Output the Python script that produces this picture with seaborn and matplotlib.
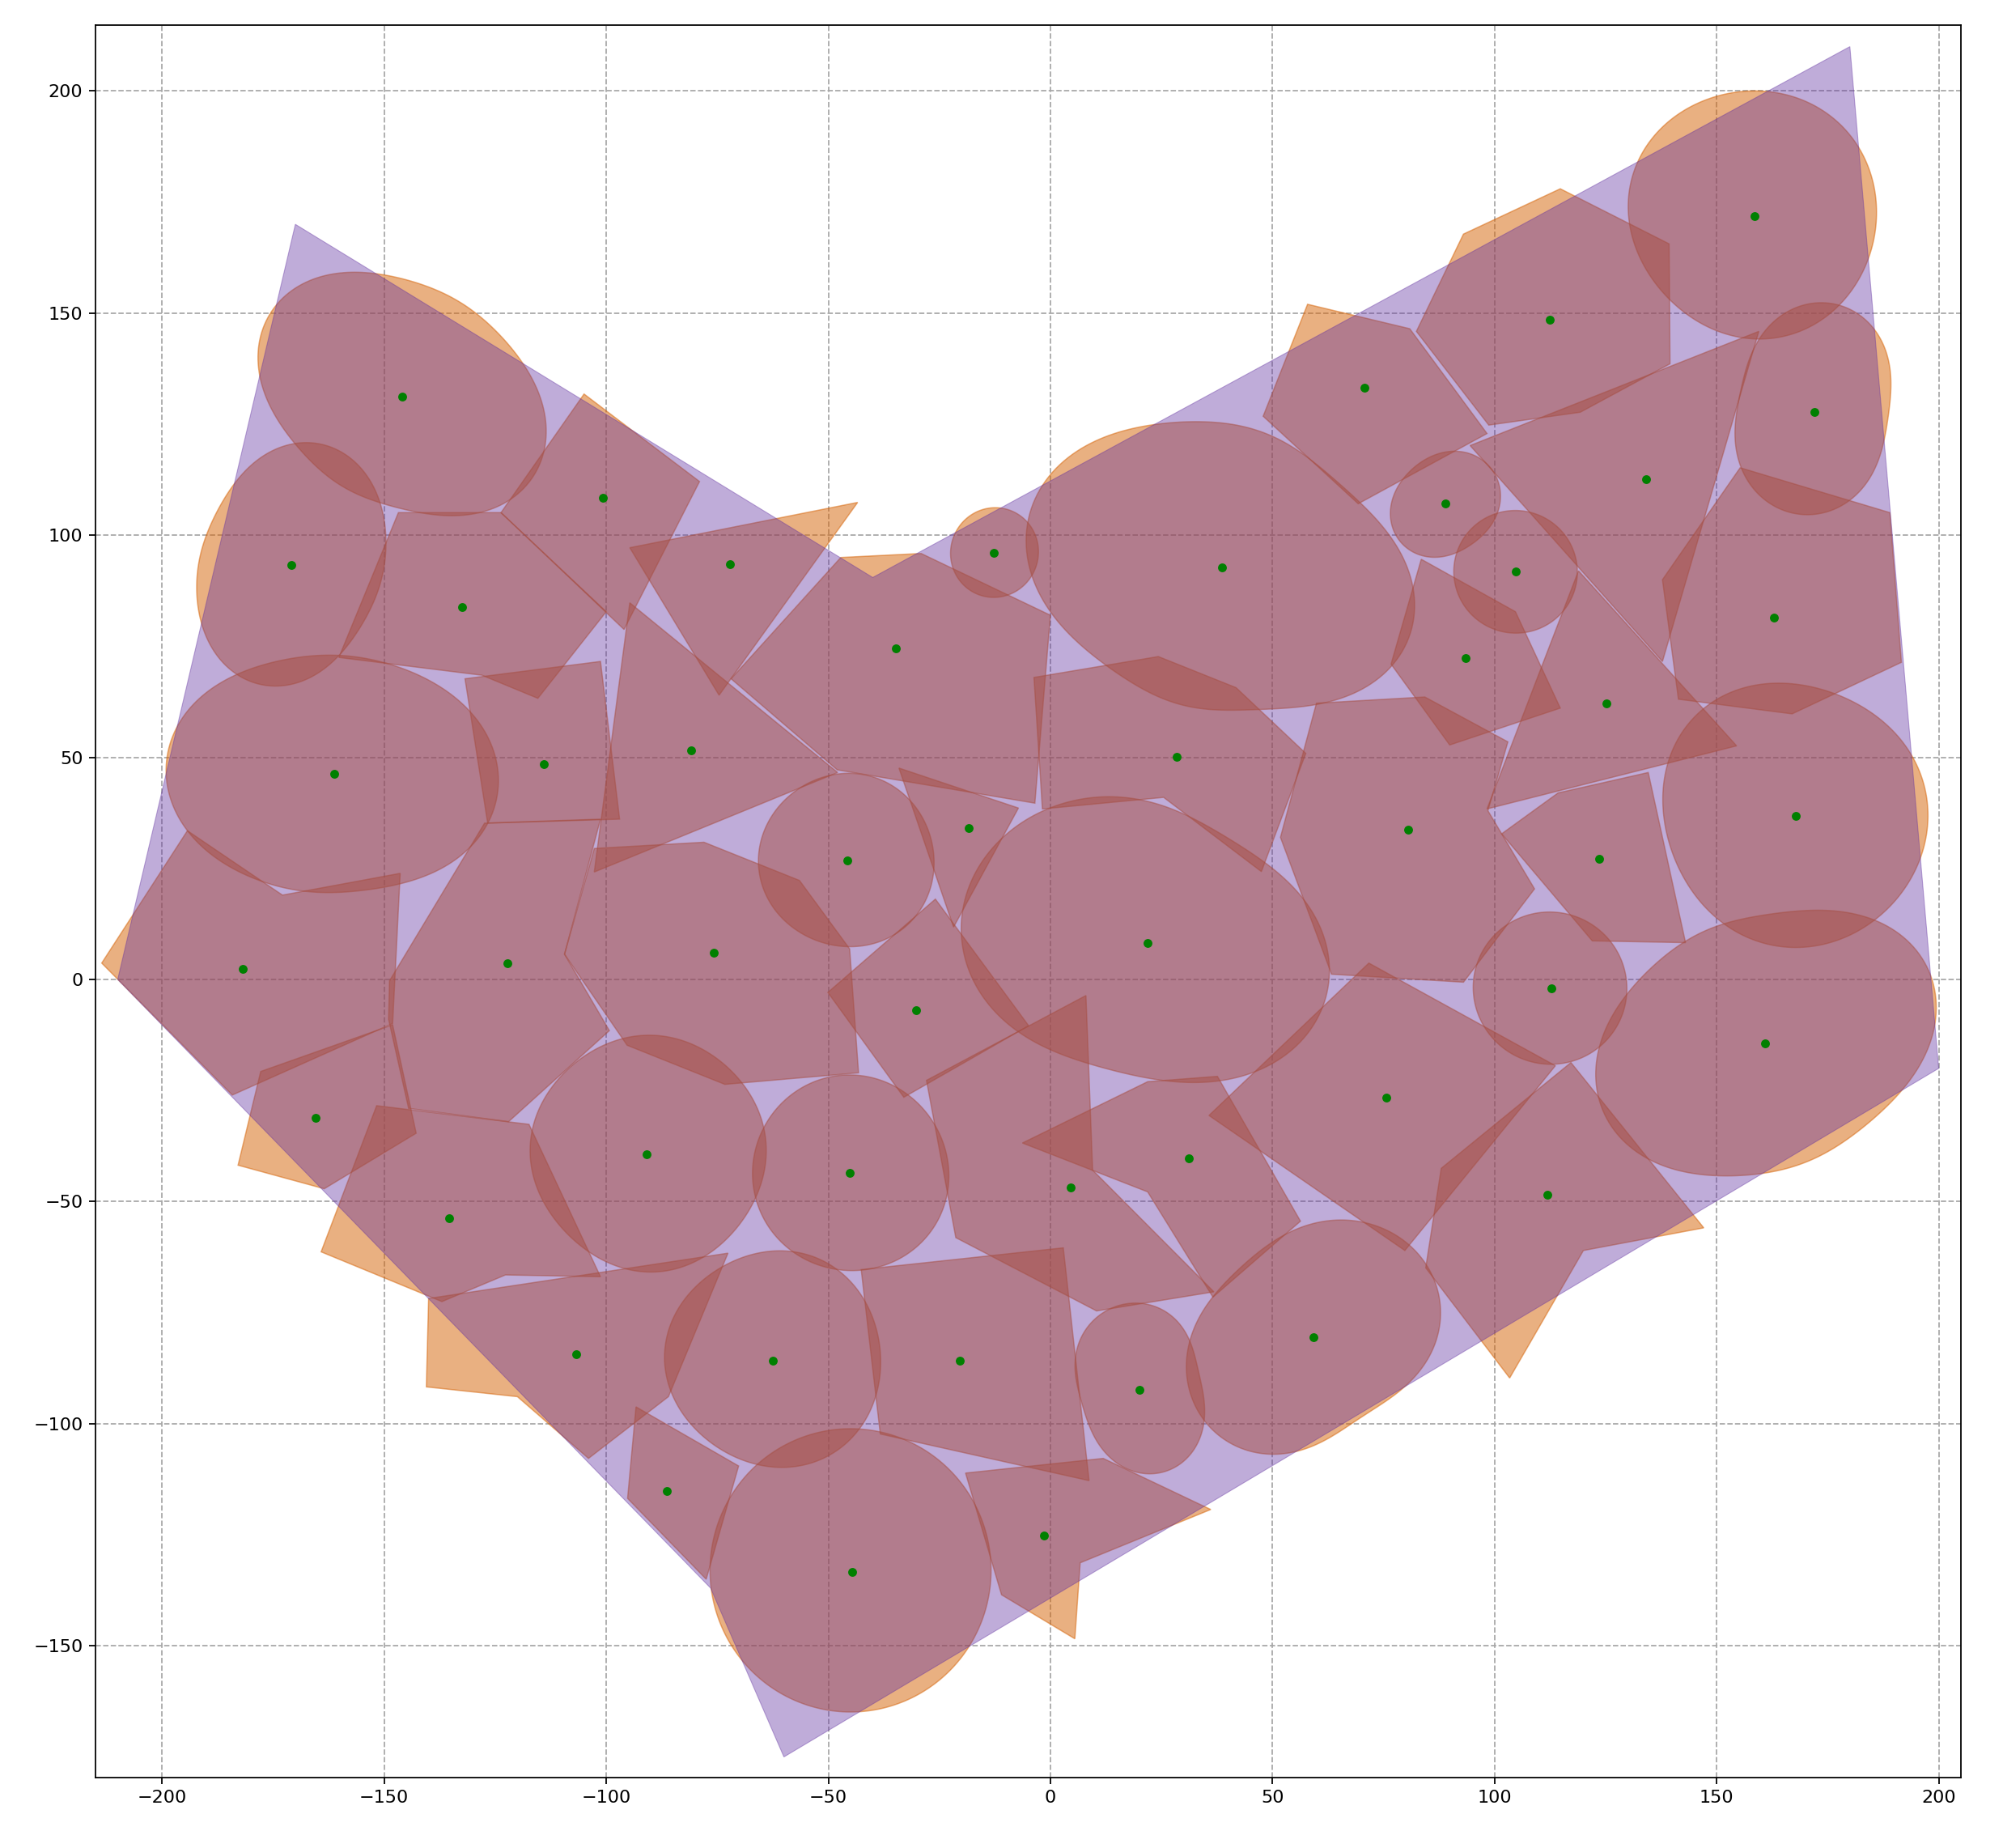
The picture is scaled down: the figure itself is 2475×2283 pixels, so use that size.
import matplotlib
matplotlib.use("Agg")
import matplotlib.pyplot as plt
from matplotlib.patches import Polygon
import numpy as np
import seaborn as sns

# outer region
boundary = [(-170, 170), (-40, 90.5), (180, 210), (200, -20), (-60, -175), (-76.5, -137), (-210, 0)]

# pieces with straight edges
straight_pieces = [
    [(-146.8, 105.1), (-123.7, 105.1), (-100, 82.8), (-115.4, 63.3), (-128, 68.5), (-160.2, 72.5)],
    [(-105, 131.8), (-79, 112.1), (-96, 78.8), (-123.7, 105.1)],
    [(-94.7, 97.2), (-43.4, 107.4), (-74.6, 64)],
    [(-131.8, 67.7), (-101.3, 71.6), (-97, 36.1), (-126.7, 35.2)],
    [(-94.7, 84.8), (-47.9, 46.6), (-102.7, 24.2)],
    [(-47.2, 95), (-29.1, 95.9), (0, 82), (-3.5, 39.7), (-48, 47.2), (-71.9, 67.7)],
    [(57.9, 152), (80.9, 146.5), (98.3, 122.9), (69.3, 107.1), (47.9, 126.8)],
    [(114.8, 178), (139.3, 165.6), (139.5, 138.6), (119.3, 127.7), (98.7, 124.8), (82.4, 145.9), (93, 167.8)],
    [(94.5, 120.2), (159.5, 145.9), (137.8, 71.6)],
    [(83.5, 94.6), (104.7, 82.8), (114.8, 61.1), (89.9, 52.8), (76.7, 71)],
    [(155.3, 115.2), (189, 105.1), (191.6, 71.4), (167, 59.8), (141.4, 63.1), (137.8, 90)],
    [(118.9, 92), (154.5, 52.6), (98.3, 38.4)],
    [(-3.7, 68), (24.3, 72.7), (41.8, 65.7), (57.5, 50.9), (47.5, 24.3), (25.5, 41), (-1.8, 38.4)],
    [(59.9, 62.2), (84.3, 63.6), (103, 53.5), (98.5, 38), (109, 20.4), (93, -0.6), (63.3, 1.2), (51.8, 32)],
    [(134.6, 46.6), (143, 8.3), (122, 8.7), (101.6, 32.8), (114.3, 42)],
    [(71.7, 3.7), (113.7, -19.4), (79.8, -61), (35.7, -30.6)],
    [(117.2, -18.7), (147.1, -55.9), (120, -61), (103.4, -89.7), (84.5, -64.9), (88, -42.5)],
    [(-19.1, -111.1), (11.9, -107.8), (36.1, -119.3), (6.7, -131.3), (5.5, -148.4), (-11, -138.5)],
    [(-42.6, -65.3), (2.9, -60.4), (8.7, -112.8), (-38.3, -102.3)],
    [(-27.9, -22.7), (8, -3.6), (9.5, -42.9), (36.8, -70.3), (10.4, -74.6), (-21.3, -58.1)],
    [(-6.3, -36.8), (21.9, -23), (37.6, -21.8), (56.3, -54.4), (36.6, -71.5), (21.9, -47.8)],
    [(-34.1, 47.6), (-7.2, 38.6), (-21.8, 11.8)],
    [(-102.7, 29.5), (-78, 30.9), (-56.5, 22.3), (-45.2, 6.9), (-43.2, -21), (-73.3, -23.6), (-95.3, -14.8), (-109.4, 5.7)],
    [(-50.1, -2.9), (-25.9, 18.1), (-4.9, -10.4), (-33, -26.5)],
    [(-213.6, 3.7), (-194.3, 33.5), (-172.9, 19), (-146.4, 23.9), (-148.1, -9.9), (-184.2, -26)],
    [(-127.4, 35.2), (-101.3, 36.1), (-109.4, 5.7), (-99.3, -11.5), (-122, -32), (-144.5, -29), (-149, -9), (-148.8, -0.3)],
    [(-177.8, -20.7), (-148.1, -10.2), (-142.8, -34.6), (-163.5, -47.1), (-182.9, -41.8)],
    [(-151.7, -28.4), (-117.4, -32.6), (-101.3, -66.9), (-122.7, -66.5), (-137, -72.5), (-164.2, -61.3)],
    [(-140, -71.8), (-140.5, -91.7), (-120, -93.9), (-104, -107.8), (-86, -93.9), (-72.6, -61.6)],
    [(-93.3, -96.2), (-70.2, -109.5), (-77.5, -135), (-95.2, -116.8)],
]

# pieces with a smooth outline (points along the outline)
round_pieces = [
    [(-155.5, 159.3), (-138, 155), (-124.7, 145.9), (-116.7, 135.3), (-113.6, 124.8), (-116, 114.3), (-122.7, 107.1), (-135.4, 104.5), (-147.5, 106.4), (-160.8, 111.7), (-170, 120.9), (-176.9, 131.4), (-178.5, 140.6), (-175.5, 149.8), (-167.5, 157)],
    [(-166.8, 120.9), (-158.1, 117.6), (-151.5, 109.1), (-149.7, 95.9), (-152.8, 84.1), (-159.5, 73.6), (-167.5, 67.7), (-175.5, 66), (-183.6, 69), (-190.2, 77.5), (-192.2, 88), (-189.6, 101.2), (-183.6, 111.7), (-175.5, 118.9)],
    [(-12.8, 106.2), (-5.5, 103.5), (-2.9, 96), (-5.5, 89), (-12.8, 86), (-19.5, 89), (-22.7, 96), (-19.5, 103)],
    [(-162.2, 73), (-146.1, 70.3), (-132.8, 61.8), (-125.4, 52.6), (-124.1, 44.7), (-127.4, 34.2), (-135.4, 26.3), (-147.5, 21), (-159.5, 19.7), (-172.9, 21), (-184.9, 25), (-193.6, 32.9), (-198.3, 42), (-198.9, 50), (-195.6, 59.1), (-186.2, 67), (-174.2, 71.6)],
    [(29.7, 125.5), (48.2, 122.9), (61, 115.6), (72.4, 103.8), (80.2, 93.3), (82.4, 85.4), (80.2, 74.9), (73.8, 68.3), (62.4, 63), (48.2, 59.8), (34, 61.8), (19.8, 65.7), (9.8, 72.3), (0.6, 82.8), (-5.1, 94.6), (-5.1, 103.8), (-0.1, 113.7), (12.7, 122.2)],
    [(157, 200.4), (171.9, 196.5), (181.9, 187.3), (186.2, 173.5), (183.4, 160.3), (174.8, 149.8), (162, 143.9), (149.2, 146.5), (137.8, 155), (131.4, 165.6), (130, 174.8), (133.6, 186.6), (143.5, 195.8)],
    [(174.1, 152.7), (183.4, 148.5), (189, 135.3), (188.3, 122.2), (181.9, 110.4), (169.1, 104.1), (160.6, 108.4), (154.9, 118.3), (154.2, 127.5), (158.4, 141.9), (165.5, 149.8)],
    [(89.5, 119.3), (98, 115.6), (101.6, 109.1), (99.4, 102.5), (92.3, 96.6), (83.8, 95.3), (78.1, 99.9), (76.2, 105.8), (80.2, 113)],
    [(103.7, 106), (113.7, 101.8), (118.9, 92), (115.1, 82.8), (105.1, 77.8), (95.9, 81.5), (90.5, 90.7), (94.5, 100.5)],
    [(166.3, 67), (181.9, 61.8), (193.3, 51.2), (197.6, 36.8), (194.7, 23.7), (186.2, 14.5), (167.5, 7), (147.8, 15.8), (140.7, 27.6), (137.8, 40.7), (140, 52.6), (149.2, 61.8)],
    [(112, 15.3), (125.7, 9), (130, -1.6), (126.5, -11.5), (117.2, -18.7), (105.1, -17.4), (98, -10.8), (95.2, -2.2), (97.3, 7), (103.7, 12.5)],
    [(197.6, 3), (198.7, -6.2), (194.7, -20.7), (186.2, -31.3), (174.8, -38.5), (162, -43.1), (149.2, -44.7), (137.8, -41.8), (127.9, -33.9), (122.9, -24.7), (122.2, -18.1), (125.7, -10.2), (133.6, 0.4), (142.1, 8.3), (154.9, 13.6), (167.7, 15.2), (183.4, 13.6), (193.3, 9.6)],
    [(68.1, -54), (79.5, -59), (85.9, -66.9), (88.1, -74.8), (85.9, -84), (78.1, -92.6), (66.7, -101.2), (55.3, -105.8), (45.4, -106.5), (37.6, -102.5), (32.6, -95.9), (30.7, -88), (31.9, -80.1), (36.8, -70.8), (46.8, -61.6), (56.8, -55.7)],
    [(17.6, -72.8), (25.5, -74.8), (31.9, -82.7), (34.7, -93.3), (32.6, -103.8), (24.8, -112.1), (15.5, -108.4), (8.4, -99.9), (5.5, -89.3), (7.7, -80.1), (12.7, -74.1)],
    [(-3, 38), (12.7, 40.3), (25.5, 39.4), (41.1, 31.5), (52.5, 22.3), (61, 10.8), (63.2, 0.4), (61, -7.5), (52.5, -16.8), (43.7, -21.4), (31.2, -23.4), (19.8, -22), (5.5, -17.4), (-8.7, -10.8), (-15, -5.5), (-18.5, 4), (-19.3, 14.7), (-15, 27.6)],
    [(-45.9, 46.6), (-35, 43.4), (-27.8, 32.9), (-25.8, 22.3), (-32.2, 13.2), (-45.8, 6.9), (-52.4, 8.9), (-61, 14.7), (-65.9, 27), (-61, 39.1), (-52.4, 44.9)],
    [(-62.6, -61), (-50, -64.2), (-41.2, -73.5), (-38.1, -85.4), (-40.5, -97.2), (-48.5, -105.8), (-61.9, -110.2), (-73.9, -105.8), (-83.3, -96.6), (-86.9, -85.4), (-86, -77.5), (-79.3, -69.6), (-71.3, -63)],
    [(-45, -101.1), (-29.2, -105.4), (-17.6, -117), (-13.4, -133), (-17.6, -149), (-29.2, -160.6), (-45, -164.9), (-60.8, -160.6), (-72.4, -149), (-76.6, -133), (-72.4, -117), (-60.8, -105.4)],
    [(-91.3, -12.5), (-78, -16.1), (-68.6, -24), (-64.6, -33.9), (-64.2, -41.8), (-67.3, -51), (-76.6, -61.6), (-90, -65.6), (-102, -62.9), (-111.4, -53.7), (-117.1, -41.8), (-116.7, -33.9), (-111.4, -23.4), (-102, -15.4)],
    [(-45.9, -21.4), (-35.2, -24), (-27.1, -31.3), (-22.7, -43.1), (-24.5, -52.4), (-32.5, -61.6), (-44.5, -66), (-56.6, -61.6), (-63.2, -56.4), (-67.2, -44.5), (-64.6, -33.9), (-56.6, -24.7)],
]

# green centre points
center_x = [-145.9, -170.9, -132.4, -100.7, -72.2, -12.7, -34.8, 38.6, 70.8, 112.5, 158.6, 172.1, 134.1, 88.9, 104.7, 93.5, 162.9, 125.2, 28.5, 80.6, 123.5, 167.8, -161.2, -114, -80.9, -45.8, -18.4, 21.9, -181.9, -122.3, -75.7, -30.2, 112.8, 160.9, 75.7, -165.5, -90.9, -45.2, 4.6, 31.1, 111.9, -135.3, -106.8, -62.4, -20.4, 20.1, 59.3, -86.3, -1.4, -44.6]
center_y = [131.3, 93.3, 83.8, 108.5, 93.5, 96.1, 74.5, 92.7, 133.3, 148.5, 171.8, 127.8, 112.6, 107.1, 91.8, 72.3, 81.5, 62.2, 50.1, 33.7, 27.1, 36.8, 46.3, 48.4, 51.5, 26.8, 34, 8.3, 2.3, 3.7, 6, -6.9, -2, -14.4, -26.5, -31.1, -39.4, -43.5, -46.9, -40.3, -48.4, -53.8, -84.3, -85.8, -85.8, -92.4, -80.6, -115.1, -125.2, -133.3]

x_ticks = [-200, -150, -100, -50, 0, 50, 100, 150, 200]
y_ticks = [-150, -100, -50, 0, 50, 100, 150, 200]

ORANGE = (213 / 255, 98 / 255, 5 / 255)
PURPLE = (97 / 255, 48 / 255, 160 / 255)


def smooth_outline(pts):
    # the read points are a bit uneven, so draw a smooth closed curve that follows them
    pts = np.array(pts)
    cx, cy = pts.mean(axis=0)
    ang = np.arctan2(pts[:, 1] - cy, pts[:, 0] - cx)
    rad = np.hypot(pts[:, 0] - cx, pts[:, 1] - cy)
    k = 4 if len(pts) >= 14 else 3 if len(pts) >= 11 else 2

    def basis(t):
        cols = [np.ones_like(t)]
        for h in range(1, k + 1):
            cols += [np.cos(h * t), np.sin(h * t)]
        return np.column_stack(cols)

    coef = np.linalg.lstsq(basis(ang), rad, rcond=None)[0]
    t = np.linspace(-np.pi, np.pi, 240, endpoint=False)
    r = basis(t) @ coef
    return np.column_stack([cx + r * np.cos(t), cy + r * np.sin(t)])


sns.set_style("whitegrid", {
    "axes.edgecolor": "black",
    "axes.linewidth": 1.0,
    "grid.color": "#b0b0b0",
    "grid.linestyle": "--",
    "xtick.bottom": True,
    "ytick.left": True,
    "xtick.color": "black",
    "ytick.color": "black",
    "text.color": "black",
})
plt.rcParams["font.family"] = ["DejaVu Sans"]
plt.rcParams["font.size"] = 10
plt.rcParams["xtick.labelsize"] = 10
plt.rcParams["ytick.labelsize"] = 10

fig = plt.figure(figsize=(2475 / 160, 2283 / 160), dpi=160)
ax = fig.add_axes([118 / 2475, 1 - 2196 / 2283, 2305 / 2475, 2165 / 2283])

# orange pieces first, the purple region lies over them
for piece in straight_pieces:
    ax.add_patch(Polygon(piece, closed=True, facecolor=ORANGE, edgecolor=ORANGE, alpha=0.5, lw=0.7, zorder=2))
for piece in round_pieces:
    ax.add_patch(Polygon(smooth_outline(piece), closed=True, facecolor=ORANGE, edgecolor=ORANGE, alpha=0.5, lw=0.7, zorder=2))
ax.add_patch(Polygon(boundary, closed=True, facecolor=PURPLE, edgecolor=PURPLE, alpha=0.4, lw=0.5, zorder=3))

sns.scatterplot(x=center_x, y=center_y, color="green", s=24, linewidth=0, zorder=4, ax=ax)

ax.set_xticks(x_ticks)
ax.set_yticks(y_ticks)
ax.set_xlim(-215, 205)
ax.set_ylim(-179.6, 214.8)
ax.set_aspect("equal", adjustable="box")
ax.grid(True, linestyle="--", color="#a8a8a8", linewidth=0.8)
ax.set_axisbelow(True)

fig.savefig("out.png", dpi=160)
